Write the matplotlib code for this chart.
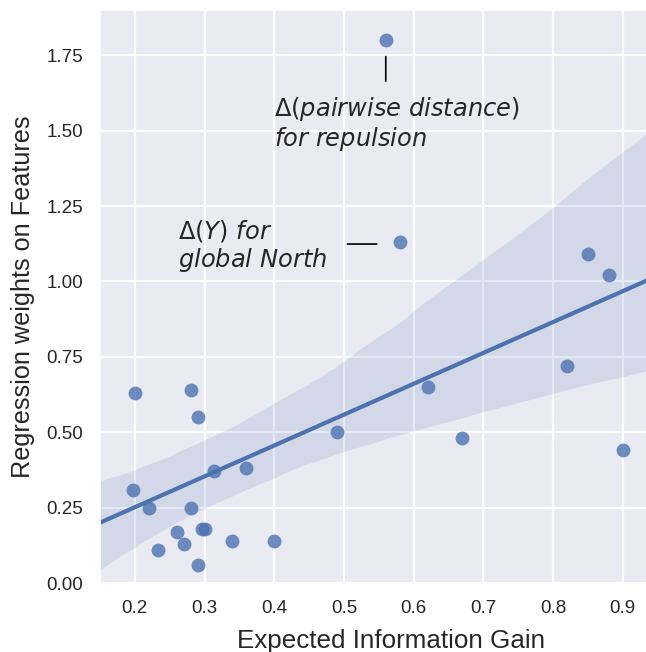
import numpy as np
import matplotlib
matplotlib.use("Agg")
import matplotlib.pyplot as plt
import seaborn as sns

# Datos
eig = [0.56, 0.58, 0.85, 0.88, 0.82, 0.62, 0.67, 0.49, 0.90,
       0.20, 0.28, 0.29, 0.197, 0.22, 0.313, 0.36, 0.28, 0.26,
       0.233, 0.27, 0.297, 0.30, 0.34, 0.40, 0.29]
weights = [1.80, 1.13, 1.09, 1.02, 0.72, 0.65, 0.48, 0.50, 0.44,
           0.63, 0.64, 0.55, 0.31, 0.25, 0.37, 0.38, 0.25, 0.17,
           0.11, 0.13, 0.18, 0.18, 0.14, 0.14, 0.06]
xticks = [0.2, 0.3, 0.4, 0.5, 0.6, 0.7, 0.8, 0.9]
yticks = [0, 0.25, 0.5, 0.75, 1.0, 1.25, 1.5, 1.75]

sns.set_theme(style="darkgrid")
plt.rcParams['font.family'] = ['Liberation Sans', 'DejaVu Sans']
plt.rcParams['mathtext.fontset'] = 'dejavusans'

# El eje sigue más allá del borde derecho de la figura (recortado como en el original)
xlim = (0.15, 0.985)
fig = plt.figure(figsize=(6.46, 6.52), dpi=100)
ax = fig.add_axes([100 / 646, 69 / 652, 582 / 646, 573 / 652])
ax.set_xlim(*xlim)
ax.set_ylim(0, 1.9)

# Regresión con banda de confianza (bootstrap de seaborn)
sns.regplot(x=eig, y=weights, ax=ax, truncate=False, seed=0,
            scatter_kws=dict(s=100, linewidths=0, zorder=3),
            line_kws=dict(linewidth=3))
ax.set_xlim(*xlim)
ax.set_ylim(0, 1.9)

ax.grid(True, color='white', linewidth=1.6)
ax.tick_params(labelsize=13.5, colors='#262626', pad=6)
ax.set_yticks(yticks)
ax.set_xticks(xticks)
ax.set_yticklabels([f'{v:.2f}' for v in yticks])
ax.set_xticklabels([f'{v:.1f}' for v in xticks])
ax.set_xlabel('Expected Information Gain', fontsize=18.7, color='#262626', labelpad=9)
ax.set_ylabel('Regression weights on Features', fontsize=18.2, color='#262626', labelpad=8)

# Anotaciones
ax.annotate('', xy=(0.56, 1.755), xytext=(0.56, 1.655),
            arrowprops=dict(arrowstyle='-', color='black', lw=1.2))
ax.text(0.399, 1.618, r'$\Delta(pairwise\ distance)$' + '\n' + r'$for\ repulsion$',
        fontsize=17.4, color='#262626', ha='left', va='top', linespacing=1.1)
ax.annotate('', xy=(0.551, 1.124), xytext=(0.501, 1.124),
            arrowprops=dict(arrowstyle='-', color='black', lw=1.2))
ax.text(0.262, 1.21, r'$\Delta(Y)\ for$' + '\n' + r'$global\ North$',
        fontsize=17.4, color='#262626', ha='left', va='top', linespacing=1.1)

fig.savefig('out.png', dpi=100)
